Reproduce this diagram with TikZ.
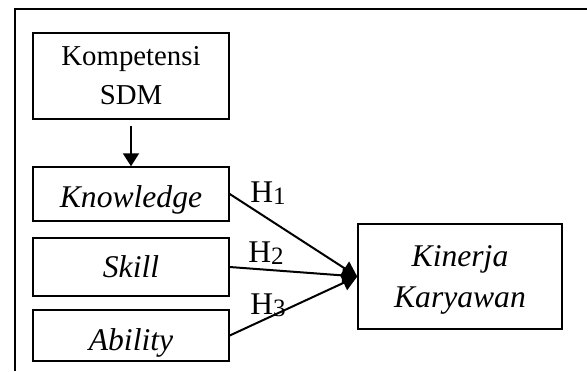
\documentclass[tikz,border=0pt]{standalone}
\usepackage{fontspec}
\setmainfont{Liberation Serif}
\usetikzlibrary{arrows.meta}
\newcommand{\hsub}[1]{H\raisebox{-1pt}{\fontsize{12.5}{12.5}\selectfont #1}}
\begin{document}
\begin{tikzpicture}[x=0.5pt,y=-0.5pt,
    font=\fontsize{14.4}{19.5}\selectfont,
    varbox/.style={draw,line width=0.75pt,minimum width=98pt,align=center,inner sep=0pt},
    itbox/.style={varbox,font=\fontsize{15.8}{20.5}\selectfont\itshape,text depth=0pt},
    hyp/.style={line width=1pt,-{Triangle[length=7.5pt,width=8pt]}},
    hlabel/.style={anchor=base west,inner sep=0pt,font=\fontsize{15.8}{16}\selectfont}]
                \useasboundingbox (0,0) rectangle (587,371);
                %outer frame, only top and left edge show
                \draw[line width=0.6pt] (15,371) -- (15,9) -- (587,9);
                %variable boxes
                \node[varbox,minimum height=43pt] (komp) at (131,76) {Kompetensi\\SDM};
                \node[itbox,minimum height=27pt,text height=13pt] (know) at (131,194) {Knowledge};
                \node[itbox,minimum height=29pt,text height=10pt] (skill) at (131,267) {Skill};
                \node[itbox,minimum height=25.5pt,text height=14.5pt] (abil) at (131,335.5) {Ability};
                \node[varbox,minimum width=102pt,minimum height=52.5pt] (kin) at (460,276.5) {};
                \node[font=\fontsize{15.8}{20.5}\selectfont\itshape,align=center] (kintext) at (460,279.5) {Kinerja\\Karyawan};
                %arrows
                \draw[line width=1pt,-{Triangle[length=6.5pt,width=8pt]},shorten <=3pt] (komp) -- (know);
                \draw[hyp] (know.east) -- (kin.west);
                \draw[hyp] (skill.east) -- (kin.west);
                \draw[hyp] (abil.east) -- (kin.west);
                %hypothesis labels
                \node[hlabel] (h1) at (250,202) {\hsub{1}};
                \node[hlabel] (h2) at (248,262) {\hsub{2}};
                \node[hlabel] (h3) at (250,314) {\hsub{3}};
\end{tikzpicture}
\end{document}
